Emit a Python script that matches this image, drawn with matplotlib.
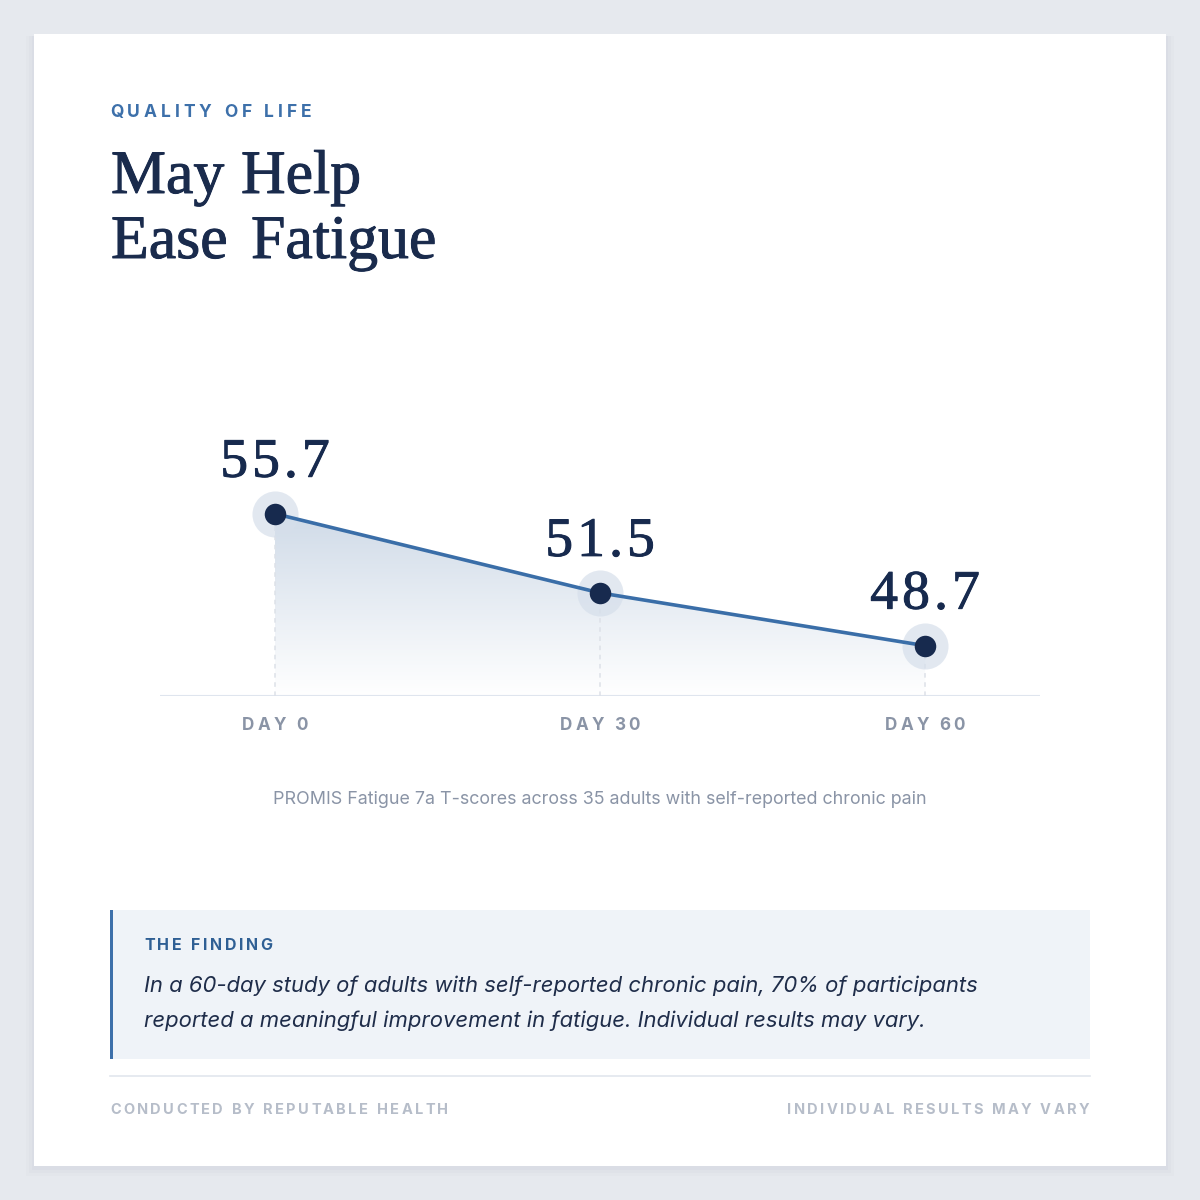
import numpy as np
import matplotlib
matplotlib.use("Agg")
import matplotlib.pyplot as plt
import matplotlib.patheffects as pe
from matplotlib.patches import Rectangle, Polygon
from matplotlib.colors import LinearSegmentedColormap

# data
days = [0, 30, 60]
scores = [55.7, 51.5, 48.7]
day_labels = ["DAY 0", "DAY 30", "DAY 60"]

W = H = 1200
NAVY = "#172a4e"
BLUE = "#3a6ea8"
GREY = "#8a94a6"
SANS = "Inter"
SERIF = "Liberation Serif"

fig = plt.figure(figsize=(12, 12), dpi=100)
fig.patch.set_facecolor("#e6e9ee")
renderer = fig.canvas.get_renderer()


def fx(x):
    return x / W


def fy(y):
    return 1 - y / H


def spaced(x, y, s, track, ha="left", **kw):
    # draw text char by char with extra letter spacing (px), y is baseline in px
    widths = []
    for ch in s:
        t = fig.text(0, 0, ch if ch != " " else "n", **kw)
        bb = t.get_window_extent(renderer)
        t.remove()
        w = bb.width if ch != " " else bb.width * 0.45
        widths.append(w)
    total = sum(widths) + track * (len(s) - 1)
    if ha == "center":
        x0 = x - total / 2
    elif ha == "right":
        x0 = x - total
    else:
        x0 = x
    for ch, w in zip(s, widths):
        if ch != " ":
            fig.text(fx(x0), fy(y), ch, va="baseline", ha="left", **kw)
        x0 += w + track


thick = [pe.withStroke(linewidth=0.7, foreground=NAVY)]

# card with soft shadow
for i, a in enumerate([0.05, 0.04, 0.03]):
    fig.patches.append(Rectangle((fx(34 - 2 - i * 3), fy(1166 + 4 + i * 3)),
                                 (1132 + 4 + i * 6) / W, (1132 + 2 + i * 3) / H,
                                 transform=fig.transFigure, color="#8792a8",
                                 alpha=a, lw=0, zorder=0))
fig.patches.append(Rectangle((fx(34), fy(1166)), 1132 / W, 1132 / H,
                             transform=fig.transFigure, color="white", lw=0, zorder=1))

# header
spaced(110, 117, "QUALITY OF LIFE", 3.9, family=SANS, fontsize=12.5,
       weight="bold", color="#3d70aa")
for word, x, y in [("May", 111, 193), ("Help", 241, 193),
                   ("Ease", 111, 258), ("Fatigue", 251, 258)]:
    fig.text(fx(x), fy(y), word, family=SERIF, fontsize=44.5,
             color="#1a2b4c", va="baseline", path_effects=thick)

# chart axes: baseline at y=696, x 160..1040
px_per_unit = 18.85
ylo = 46.03
ax_top, ax_bot = 380, 696
ax = fig.add_axes([fx(160), fy(ax_bot), 880 / W, (ax_bot - ax_top) / H])
ax.set_xlim(-10.6, 70.6)
ax.set_ylim(ylo, ylo + (ax_bot - ax_top) / px_per_unit)
ax.axis("off")
ax.set_zorder(3)

# gradient fill under line
y0, y1 = ax.get_ylim()
grad = np.linspace(0, 1, 256).reshape(-1, 1)
cmap = LinearSegmentedColormap.from_list("g", ["#ffffff", "#d0dbe8"])
top = max(scores)
im = ax.imshow(grad, extent=[days[0], days[-1], y0, top], origin="lower",
               cmap=cmap, aspect="auto", zorder=1, vmin=0, vmax=1)
poly = Polygon([(days[0], y0)] + list(zip(days, scores)) + [(days[-1], y0)],
               closed=True, transform=ax.transData, facecolor="none", edgecolor="none")
ax.add_patch(poly)
im.set_clip_path(poly)
ax.set_xlim(-10.6, 70.6)
ax.set_ylim(y0, y1)

# baseline
ax.axhline(y0 + 0.02, color="#dfe5ee", lw=1.5, zorder=2)
# dotted drops
for d, s in zip(days, scores):
    ax.plot([d, d], [y0, s], color="#dde1e8", lw=1.1, ls=(0, (3, 3)), zorder=2)

ax.plot(days, scores, color=BLUE, lw=2.6, zorder=3, solid_capstyle="round")
ax.scatter(days, scores, s=1100, color="#d6dfeb", alpha=0.7, lw=0, zorder=2.5)
ax.scatter(days, scores, s=240, color=NAVY, lw=0, zorder=4)

# value labels & day labels
for d, s, lab in zip(days, scores, day_labels):
    xp = 275 + d * 650 / 60
    yp = 696 - (s - ylo) * px_per_unit
    spaced(xp, yp - 37, f"{s:.1f}", 4.2, ha="center", family=SERIF,
           fontsize=40, color=NAVY, path_effects=thick)
    spaced(xp, 730, lab, 2.9, ha="center", family=SANS, fontsize=12.3,
           weight="bold", color=GREY)

fig.text(0.5, fy(799), "PROMIS Fatigue 7a T-scores across 35 adults with self-reported chronic pain",
         family=SANS, fontsize=12.9, color=GREY, ha="center", va="center")

# finding box
fig.patches.append(Rectangle((fx(110), fy(1059)), 980 / W, 149 / H,
                             transform=fig.transFigure, color="#eff3f8", lw=0, zorder=2))
fig.patches.append(Rectangle((fx(110), fy(1059)), 3 / W, 149 / H,
                             transform=fig.transFigure, color="#3d70aa", lw=0, zorder=2))
spaced(144, 950, "THE FINDING", 2.6, family=SANS, fontsize=11.5,
       weight="bold", color="#2f5f94")
fig.text(fx(144), fy(992), "In a 60-day study of adults with self-reported chronic pain, 70% of participants",
         family=SANS, style="italic", fontsize=15.9, color="#1f2d4a", va="baseline")
fig.text(fx(144), fy(1027), "reported a meaningful improvement in fatigue. Individual results may vary.",
         family=SANS, style="italic", fontsize=15.9, color="#1f2d4a", va="baseline")

# footer
fig.add_artist(plt.Line2D([fx(110), fx(1090)], [fy(1076), fy(1076)],
                          color="#e1e6ed", lw=1.2, transform=fig.transFigure))
spaced(110, 1114, "CONDUCTED BY REPUTABLE HEALTH", 2.35, family=SANS,
       fontsize=10.5, weight="bold", color="#b6bdc9")
spaced(1089, 1114, "INDIVIDUAL RESULTS MAY VARY", 2.35, ha="right", family=SANS,
       fontsize=10.5, weight="bold", color="#b6bdc9")

fig.savefig("out.png", dpi=100, facecolor=fig.get_facecolor())
